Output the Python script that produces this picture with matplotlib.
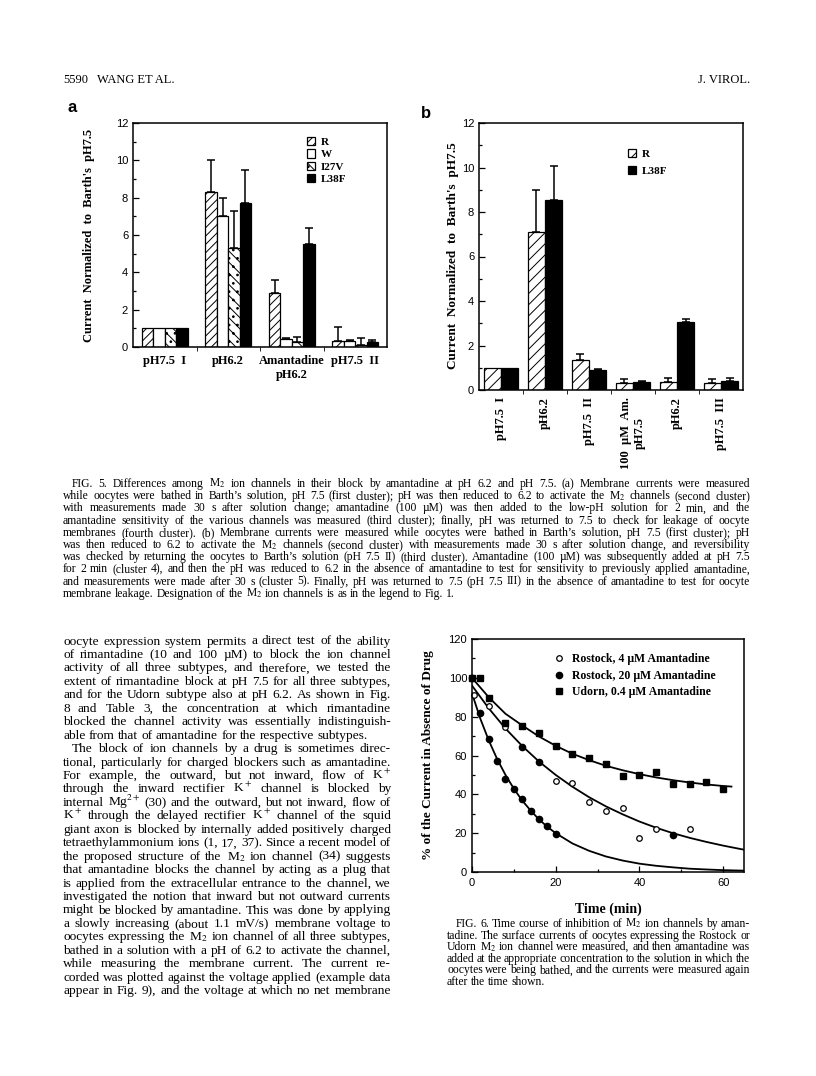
'''
Page 5590, J. Virol.: Fig. 5 (a, b) bar charts, Fig. 6 time course, plus the page text
'''
import numpy as np
import matplotlib
matplotlib.use('Agg')
import matplotlib.pyplot as plt
from matplotlib.ticker import MultipleLocator

W, H = 816, 1076
plt.rcParams['mathtext.fontset'] = 'stix'
plt.rcParams['hatch.linewidth'] = 0.7
SERIF = 'Liberation Serif'
SANS = 'Liberation Sans'

#%%
'''
data
'''
# fig 5a: bar heights and top of error bar (same value = no error bar)
a_groups = ['pH7.5  I', 'pH6.2', 'Amantadine\npH6.2', 'pH7.5  II']
a_names = ['R', 'W', 'I27V', 'L38F']
a_R = [1.0, 8.3, 2.9, 0.3]
a_W = [1.0, 7.0, 0.45, 0.3]
a_I27V = [1.0, 5.3, 0.25, 0.1]
a_L38F = [1.0, 7.7, 5.5, 0.25]
a_R_top = [1.0, 10.0, 3.6, 1.05]
a_W_top = [1.0, 8.0, 0.5, 0.4]
a_I27V_top = [1.0, 7.3, 0.55, 0.5]
a_L38F_top = [1.0, 9.5, 6.35, 0.4]

# fig 5b
b_groups = ['pH7.5  I', 'pH6.2', 'pH7.5  II', '100  µM  Am.\npH7.5', 'pH6.2', 'pH7.5  III']
b_names = ['R', 'L38F']
b_R = [1.0, 7.1, 1.35, 0.3, 0.35, 0.3]
b_L38F = [1.0, 8.55, 0.9, 0.35, 3.05, 0.4]
b_R_top = [1.0, 9.0, 1.6, 0.5, 0.55, 0.5]
b_L38F_top = [1.0, 10.05, 0.95, 0.4, 3.2, 0.55]

# fig 6: measured points (min, % of current)
r4_t = [0.4, 4, 8, 20, 24, 28, 32, 36, 40, 44, 52]
r4_y = [91, 85.5, 74.5, 47, 46, 36, 31.5, 33, 17.5, 22, 22]
r20_t = [0, 2, 4, 6, 8, 10, 12, 14, 16, 18, 20, 12, 16, 48]
r20_y = [100, 82, 68.5, 57, 48, 43, 37.7, 31.5, 27.2, 23.8, 19.8, 64.4, 56.5, 19.3]
ud_t = [0, 2, 4, 8, 12, 16, 20, 24, 28, 32, 36, 40, 44, 48, 52, 56, 60]
ud_y = [100, 100, 89.5, 76.5, 75, 71.5, 64.7, 60.8, 58.7, 55.5, 49.3, 50.2, 51.3, 45.1, 45.1, 46.3, 42.9]

# fig 6: fitted curves
ud_fit_t = [0, 4, 8, 12, 16, 20, 24, 28, 32, 36, 40, 44, 48, 52, 56, 60, 62]
ud_fit_y = [100, 90.0, 81.5, 75.5, 69.8, 65.0, 60.9, 57.6, 54.7, 52.4, 50.4, 48.7, 47.3, 46.1, 45.1, 44.3, 44.0]
r4_fit_t = [0, 4, 8, 12, 16, 20, 24, 28, 32, 36, 40, 44, 48, 52, 56, 60, 64, 65]
r4_fit_y = [96, 84.3, 73.9, 64.9, 56.9, 50.0, 43.9, 38.5, 33.8, 29.7, 26.0, 22.8, 20.0, 17.6, 15.5, 13.6, 11.9, 11.5]
r20_fit_t = [0, 2, 4, 6, 8, 10, 12, 14, 16, 18, 20, 24, 28, 32, 36, 40, 44, 48, 52, 56, 60, 65]
r20_fit_y = [92, 78.9, 67.8, 58.2, 50.0, 42.9, 36.8, 31.7, 27.1, 23.3, 20.0, 14.7, 10.9, 8.0, 5.9, 4.3,
             3.2, 2.4, 1.7, 1.3, 0.95, 0.7]

# page text
fig5_caption = [
    "FIG. 5. Differences among M$_2$ ion channels in their block by amantadine at pH 6.2 and pH 7.5. (a) Membrane currents were measured",
    "while oocytes were bathed in Barth’s solution, pH 7.5 (first cluster); pH was then reduced to 6.2 to activate the M$_2$ channels (second cluster)",
    "with measurements made 30 s after solution change; amantadine (100 µM) was then added to the low-pH solution for 2 min, and the",
    "amantadine sensitivity of the various channels was measured (third cluster); finally, pH was returned to 7.5 to check for leakage of oocyte",
    "membranes (fourth cluster). (b) Membrane currents were measured while oocytes were bathed in Barth’s solution, pH 7.5 (first cluster); pH",
    "was then reduced to 6.2 to activate the M$_2$ channels (second cluster) with measurements made 30 s after solution change, and reversibility",
    "was checked by returning the oocytes to Barth’s solution (pH 7.5 II) (third cluster). Amantadine (100 µM) was subsequently added at pH 7.5",
    "for 2 min (cluster 4), and then the pH was reduced to 6.2 in the absence of amantadine to test for sensitivity to previously applied amantadine,",
    "and measurements were made after 30 s (cluster 5). Finally, pH was returned to 7.5 (pH 7.5 III) in the absence of amantadine to test for oocyte",
    "membrane leakage. Designation of the M$_2$ ion channels is as in the legend to Fig. 1.",
]
body_text = [
    "oocyte expression system permits a direct test of the ability",
    "of rimantadine (10 and 100 µM) to block the ion channel",
    "activity of all three subtypes, and therefore, we tested the",
    "extent of rimantadine block at pH 7.5 for all three subtypes,",
    "and for the Udorn subtype also at pH 6.2. As shown in Fig.",
    "8 and Table 3, the concentration at which rimantadine",
    "blocked the channel activity was essentially indistinguish-",
    "able from that of amantadine for the respective subtypes.",
    "The block of ion channels by a drug is sometimes direc-",
    "tional, particularly for charged blockers such as amantadine.",
    "For example, the outward, but not inward, flow of K$^+$",
    "through the inward rectifier K$^+$ channel is blocked by",
    "internal Mg$^{2+}$ (30) and the outward, but not inward, flow of",
    "K$^+$ through the delayed rectifier K$^+$ channel of the squid",
    "giant axon is blocked by internally added positively charged",
    "tetraethylammonium ions (1, 17, 37). Since a recent model of",
    "the proposed structure of the M$_2$ ion channel (34) suggests",
    "that amantadine blocks the channel by acting as a plug that",
    "is applied from the extracellular entrance to the channel, we",
    "investigated the notion that inward but not outward currents",
    "might be blocked by amantadine. This was done by applying",
    "a slowly increasing (about 1.1 mV/s) membrane voltage to",
    "oocytes expressing the M$_2$ ion channel of all three subtypes,",
    "bathed in a solution with a pH of 6.2 to activate the channel,",
    "while measuring the membrane current. The current re-",
    "corded was plotted against the voltage applied (example data",
    "appear in Fig. 9), and the voltage at which no net membrane",
]
fig6_caption = [
    "FIG. 6. Time course of inhibition of M$_2$ ion channels by aman-",
    "tadine. The surface currents of oocytes expressing the Rostock or",
    "Udorn M$_2$ ion channel were measured, and then amantadine was",
    "added at the appropriate concentration to the solution in which the",
    "oocytes were being bathed, and the currents were measured again",
    "after the time shown.",
]

#%%
'''
helpers
'''
fig = plt.figure(figsize=(W / 100, H / 100), dpi=100)
fig.patch.set_facecolor('white')
renderer = fig.canvas.get_renderer()


def pxf(x, y):
    return x / W, 1 - y / H


def axes_px(left, top, right, bottom):
    return fig.add_axes([left / W, 1 - bottom / H, (right - left) / W, (bottom - top) / H])


def text_block(lines, x0, x1, y0, dy, size, ends=(), indents=(), indent=9, min_gap=0.8):
    # justified lines, word by word; y0 = baseline of first line in px
    # one font size for the whole block: shrink it until every justified line fits
    rows = []
    fit = size
    for i, line in enumerate(lines):
        words = line.split()
        objs = [fig.text(0, 0, w, fontsize=size, family=SERIF, va='baseline') for w in words]
        widths = [o.get_window_extent(renderer).width for o in objs]
        left = x0 + (indent if i in indents else 0)
        rows.append((objs, left))
        if i not in ends and len(words) > 1:
            sp = min_gap * size * 100 / 72 * 0.25
            fit = min(fit, size * (x1 - left - sp * (len(words) - 1)) / sum(widths))
    space = fit * 100 / 72 * 0.25
    for i, (objs, left) in enumerate(rows):
        for o in objs:
            o.set_fontsize(fit)
        widths = [o.get_window_extent(renderer).width for o in objs]
        gap = space
        if i not in ends and len(objs) > 1:
            gap = (x1 - left - sum(widths)) / (len(objs) - 1)
        x = left
        for o, w in zip(objs, widths):
            o.set_position(pxf(x, y0 + i * dy))
            x += w + gap


def style_axes(ax):
    for s in ax.spines.values():
        s.set_linewidth(1.1)
    ax.tick_params(axis='y', which='both', direction='in', labelsize=8, width=0.9)
    ax.tick_params(axis='y', which='major', length=4)
    ax.tick_params(axis='y', which='minor', length=2.5)
    for lab in ax.get_yticklabels():
        lab.set_family(SANS)


def bars(ax, x, vals, tops, bw, **kw):
    vals = np.array(vals)
    up = np.array(tops) - vals
    b = ax.bar(x, vals, bw, edgecolor='black', linewidth=0.9, **kw)
    m = up > 0
    ax.errorbar(x[m], vals[m], yerr=[np.zeros(m.sum()), up[m]], fmt='none',
                ecolor='black', elinewidth=1.1, capsize=3, capthick=1.1)
    return b


#%%
'''
header
'''
fig.text(*pxf(63, 83), '5590', fontsize=9, family=SERIF)
fig.text(*pxf(97, 83), 'WANG ET AL.', fontsize=9, family=SERIF)
fig.text(*pxf(750, 83), 'J. VIROL.', fontsize=9, family=SERIF, ha='right')

#%%
'''
fig 5a
'''
fig.text(*pxf(68, 112), 'a', fontsize=12, family=SANS, weight='bold')
ax = axes_px(133, 123, 387, 347)
xa = np.arange(len(a_groups))
bw = 0.18
a_vals = [a_R, a_W, a_I27V, a_L38F]
a_tops = [a_R_top, a_W_top, a_I27V_top, a_L38F_top]
a_styles = [dict(facecolor='white', hatch='////'), dict(facecolor='white'),
            dict(facecolor='white', hatch='\\\\\\..'), dict(facecolor='black')]
for k in range(4):
    bars(ax, xa + (k - 1.5) * bw, a_vals[k], a_tops[k], bw, label=a_names[k], **a_styles[k])
ax.set_xlim(-0.5, 3.5)
ax.set_ylim(0, 12)
ax.yaxis.set_major_locator(MultipleLocator(2))
ax.yaxis.set_minor_locator(MultipleLocator(1))
ax.set_xticks(xa)
ax.set_xticklabels(a_groups, family=SERIF, weight='bold', fontsize=9)
ax.set_xticks(xa[:-1] + 0.5, minor=True)
ax.tick_params(axis='x', which='major', length=0, pad=6)
ax.tick_params(axis='x', which='minor', direction='out', length=3)
style_axes(ax)
ax.legend(loc='upper left', bbox_to_anchor=pxf(307, 137), bbox_transform=fig.transFigure,
          frameon=False, prop=dict(family=SERIF, weight='bold', size=8), handlelength=0.75,
          handleheight=0.75, handletextpad=0.5, labelspacing=0.22, borderpad=0, borderaxespad=0)
fig.text(*pxf(89, 235), "Current  Normalized  to  Barth's  pH7.5", rotation=90, ha='center', va='center',
         fontsize=9, family=SERIF, weight='bold')

#%%
'''
fig 5b
'''
fig.text(*pxf(421, 118), 'b', fontsize=12, family=SANS, weight='bold')
ax = axes_px(479, 123, 743, 390)
xb = np.arange(len(b_groups))
bw = 0.39
bars(ax, xb - bw / 2, b_R, b_R_top, bw, label='R', facecolor='white', hatch='///')
bars(ax, xb + bw / 2, b_L38F, b_L38F_top, bw, label='L38F', facecolor='black')
ax.set_xlim(-0.5, 5.5)
ax.set_ylim(0, 12)
ax.yaxis.set_major_locator(MultipleLocator(2))
ax.yaxis.set_minor_locator(MultipleLocator(1))
ax.set_xticks(xb)
ax.set_xticklabels(b_groups, family=SERIF, weight='bold', fontsize=9, rotation=90,
                   ha='center', va='top', multialignment='center')
ax.set_xticks(xb[:-1] + 0.5, minor=True)
ax.tick_params(axis='x', which='major', length=0, pad=5)
ax.tick_params(axis='x', which='minor', direction='out', length=3)
style_axes(ax)
ax.legend(loc='upper left', bbox_to_anchor=pxf(628, 149), bbox_transform=fig.transFigure,
          frameon=False, prop=dict(family=SERIF, weight='bold', size=8), handlelength=0.75,
          handleheight=0.75, handletextpad=0.5, labelspacing=0.6, borderpad=0, borderaxespad=0)
fig.text(*pxf(453, 256), "Current  Normalized  to  Barth's  pH7.5", rotation=90, ha='center', va='center',
         fontsize=9.5, family=SERIF, weight='bold')

#%%
'''
fig 5 caption and left column
'''
text_block(fig5_caption, 63, 750, 487, 12.2, 8.4, ends=(9,), indents=(0,))
text_block(body_text, 63, 391, 644.5, 13.45, 9.6, ends=(7,), indents=(8,))

#%%
'''
fig 6
'''
ax = axes_px(472, 639, 744, 872)
ax.plot(ud_fit_t, ud_fit_y, color='black', lw=1.3)
ax.plot(r4_fit_t, r4_fit_y, color='black', lw=1.3)
ax.plot(r20_fit_t, r20_fit_y, color='black', lw=1.3)
ax.plot(r4_t, r4_y, 'o', mfc='white', mec='black', mew=0.9, ms=4, clip_on=False,
        label='Rostock, 4 µM Amantadine')
ax.plot(r20_t, r20_y, 'o', color='black', ms=4.5, clip_on=False, label='Rostock, 20 µM Amantadine')
ax.plot(ud_t, ud_y, 's', color='black', ms=5, clip_on=False, label='Udorn, 0.4 µM Amantadine')
ax.set_xlim(0, 65)
ax.set_ylim(0, 120)
ax.xaxis.set_major_locator(MultipleLocator(20))
ax.xaxis.set_minor_locator(MultipleLocator(10))
ax.yaxis.set_major_locator(MultipleLocator(20))
ax.yaxis.set_minor_locator(MultipleLocator(10))
style_axes(ax)
ax.tick_params(axis='x', which='both', direction='in', labelsize=8, width=0.9)
ax.tick_params(axis='x', which='major', length=4, pad=4)
ax.tick_params(axis='x', which='minor', length=2.5)
for lab in ax.get_xticklabels():
    lab.set_family(SANS)
ax.legend(loc='upper left', bbox_to_anchor=pxf(553, 653), bbox_transform=fig.transFigure,
          frameon=False, prop=dict(family=SERIF, weight='bold', size=8.5), handlelength=1.0,
          handletextpad=0.6, labelspacing=0.4, borderpad=0, borderaxespad=0, numpoints=1)
fig.text(*pxf(608, 909), 'Time (min)', ha='center', va='center', fontsize=10, family=SERIF, weight='bold')
fig.text(*pxf(428, 755), '% of the Current in Absence of Drug', rotation=90, ha='center', va='center',
         fontsize=9.5, family=SERIF, weight='bold')

text_block(fig6_caption, 447, 750, 927, 11.6, 8.5, ends=(5,), indents=(0,))

plt.savefig('out.png', dpi=100, facecolor='white')
